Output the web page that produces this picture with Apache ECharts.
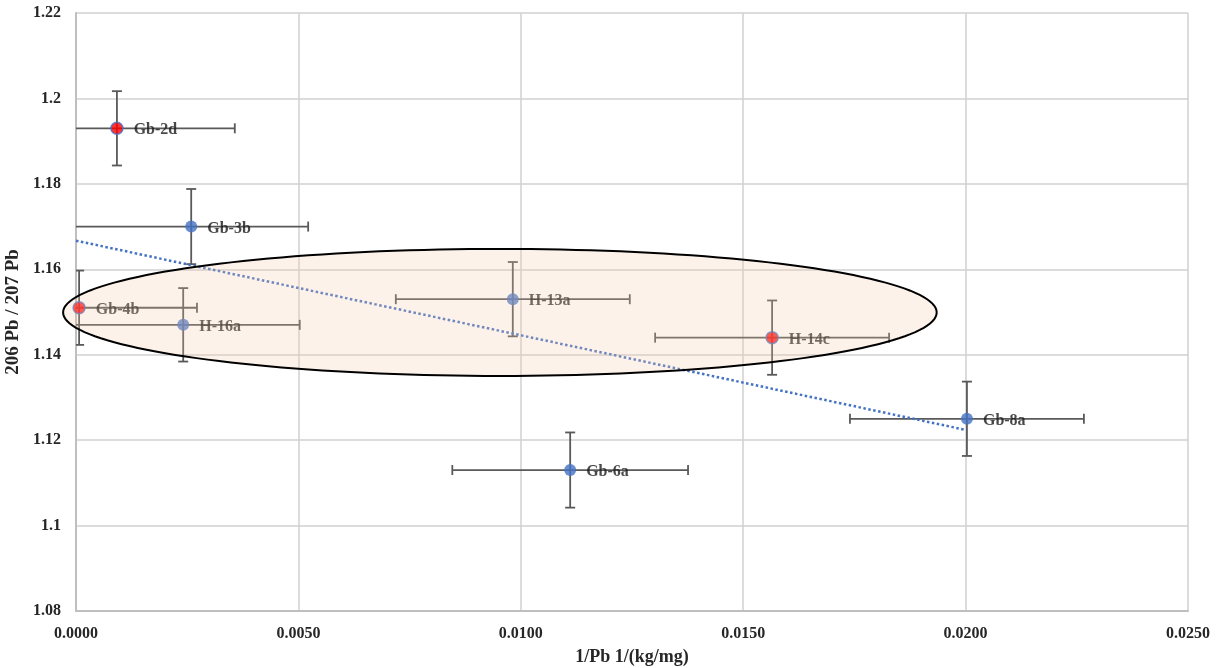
<!DOCTYPE html>
<html>
<head>
<meta charset="utf-8">
<script src="https://cdn.jsdelivr.net/npm/echarts@6/dist/echarts.min.js"></script>
<style>
  html, body { margin: 0; padding: 0; background: #fff; }
  #chart { width: 1221px; height: 668px; }
</style>
</head>
<body>
<div id="chart"></div>
<script>
// samples
const sampleNames = ['Gb-2d', 'Gb-3b', 'Gb-4b', 'H-16a', 'H-13a', 'H-14c', 'Gb-8a', 'Gb-6a'];
const invPb = [0.00092, 0.00259, 0.00007, 0.00241, 0.00982, 0.01565, 0.02003, 0.01111];
const ratio = [1.193, 1.170, 1.151, 1.147, 1.153, 1.144, 1.125, 1.113];
const invPbErr = [0.00265, 0.00263, 0.00265, 0.00262, 0.00263, 0.00263, 0.00263, 0.00265];
const ratioErr = [0.0087, 0.0088, 0.0087, 0.0086, 0.0087, 0.0087, 0.0087, 0.0088];
const redSamples = ['Gb-2d', 'Gb-4b', 'H-14c'];

// trend line end points
const trendX = [0.0, 0.0200];
const trendY = [1.1667, 1.1224];

// highlighted group: centre and half-axes
const groupCenter = [0.00953, 1.1499];
const groupRadius = [0.00982, 0.01487];

const xTicks = { min: 0, max: 0.025, interval: 0.005 };
const yTicks = { min: 1.08, max: 1.22, interval: 0.02 };

const blue = '#4472C4';
const barColor = '#595959';
const serif = '"Liberation Serif", "Times New Roman", serif';

const points = sampleNames.map((n, i) => ({
    name: n,
    value: [invPb[i], ratio[i]],
    itemStyle: redSamples.includes(n)
        ? { color: '#FF0000', borderColor: blue, borderWidth: 1.5 }
        : { color: blue }
}));
const bars = sampleNames.map((n, i) => [invPb[i], ratio[i], invPbErr[i], ratioErr[i]]);

const chart = echarts.init(document.getElementById('chart'), null, { renderer: 'canvas' });

const option = {
    backgroundColor: '#fff',
    animation: false,
    grid: { left: 76, right: 33, top: 13, bottom: 57, containLabel: false, outerBoundsMode: 'none' },
    xAxis: {
        type: 'value',
        min: xTicks.min, max: xTicks.max, interval: xTicks.interval,
        name: '1/Pb 1/(kg/mg)',
        nameLocation: 'middle',
        nameGap: 37,
        nameTextStyle: { fontFamily: serif, fontWeight: 'bold', fontSize: 18, color: '#262626' },
        axisLine: { show: true, lineStyle: { color: '#bfbfbf', width: 2 } },
        axisTick: { show: false },
        axisLabel: {
            margin: 15,
            fontFamily: serif, fontWeight: 'bold', fontSize: 16, color: '#262626',
            formatter: v => v.toFixed(4)
        },
        splitLine: { show: true, lineStyle: { color: '#d0d0d0', width: 1.5 } }
    },
    yAxis: {
        type: 'value',
        min: yTicks.min, max: yTicks.max, interval: yTicks.interval,
        name: '206 Pb / 207 Pb',
        nameLocation: 'middle',
        nameGap: 43,
        nameTextStyle: { fontFamily: serif, fontWeight: 'bold', fontSize: 19, color: '#262626' },
        axisLine: { show: true, lineStyle: { color: '#bfbfbf', width: 2 } },
        axisTick: { show: false },
        axisLabel: {
            margin: 15,
            fontFamily: serif, fontWeight: 'bold', fontSize: 16, color: '#262626',
            formatter: v => String(parseFloat(v.toFixed(2)))
        },
        splitLine: { show: true, lineStyle: { color: '#d0d0d0', width: 1.5 } }
    },
    series: [
        {
            type: 'custom',
            name: 'errors',
            clip: true,
            z: 2,
            data: bars,
            renderItem: function (params, api) {
                const x = api.value(0), y = api.value(1);
                const ex = api.value(2), ey = api.value(3);
                const l = api.coord([x - ex, y]);
                const r = api.coord([x + ex, y]);
                const t = api.coord([x, y + ey]);
                const b = api.coord([x, y - ey]);
                const cap = 5;
                const st = { stroke: barColor, lineWidth: 1.8 };
                return {
                    type: 'group',
                    children: [
                        { type: 'line', shape: { x1: l[0], y1: l[1], x2: r[0], y2: r[1] }, style: st },
                        { type: 'line', shape: { x1: t[0], y1: t[1], x2: b[0], y2: b[1] }, style: st },
                        { type: 'line', shape: { x1: l[0], y1: l[1] - cap, x2: l[0], y2: l[1] + cap }, style: st },
                        { type: 'line', shape: { x1: r[0], y1: r[1] - cap, x2: r[0], y2: r[1] + cap }, style: st },
                        { type: 'line', shape: { x1: t[0] - cap, y1: t[1], x2: t[0] + cap, y2: t[1] }, style: st },
                        { type: 'line', shape: { x1: b[0] - cap, y1: b[1], x2: b[0] + cap, y2: b[1] }, style: st }
                    ]
                };
            }
        },
        {
            type: 'line',
            name: 'trend',
            z: 3,
            data: trendX.map((x, i) => [x, trendY[i]]),
            symbol: 'none',
            lineStyle: { color: blue, width: 2.5, type: [2.5, 2.5] }
        },
        {
            type: 'scatter',
            name: 'samples',
            z: 4,
            symbolSize: 12,
            data: points,
            label: {
                show: true,
                position: 'right',
                distance: 10,
                offset: [0, 2],
                formatter: p => p.name,
                fontFamily: serif, fontWeight: 'bold', fontSize: 16, color: '#1a1a1a'
            }
        },
        {
            type: 'custom',
            name: 'group',
            clip: false,
            z: 10,
            silent: true,
            data: [[groupCenter[0], groupCenter[1], groupRadius[0], groupRadius[1]]],
            renderItem: function (params, api) {
                const c = api.coord([api.value(0), api.value(1)]);
                const ex = api.coord([api.value(0) + api.value(2), api.value(1)]);
                const ey = api.coord([api.value(0), api.value(1) + api.value(3)]);
                const rx = Math.abs(ex[0] - c[0]);
                const ry = Math.abs(c[1] - ey[1]);
                const pts = [];
                for (let k = 0; k < 180; k++) {
                    const a = k / 180 * Math.PI * 2;
                    pts.push([c[0] + rx * Math.cos(a), c[1] + ry * Math.sin(a)]);
                }
                return {
                    type: 'polygon',
                    shape: { points: pts },
                    style: { fill: 'rgba(248,203,173,0.25)', stroke: '#000', lineWidth: 2 }
                };
            }
        }
    ]
};

chart.setOption(option);
</script>
</body>
</html>
